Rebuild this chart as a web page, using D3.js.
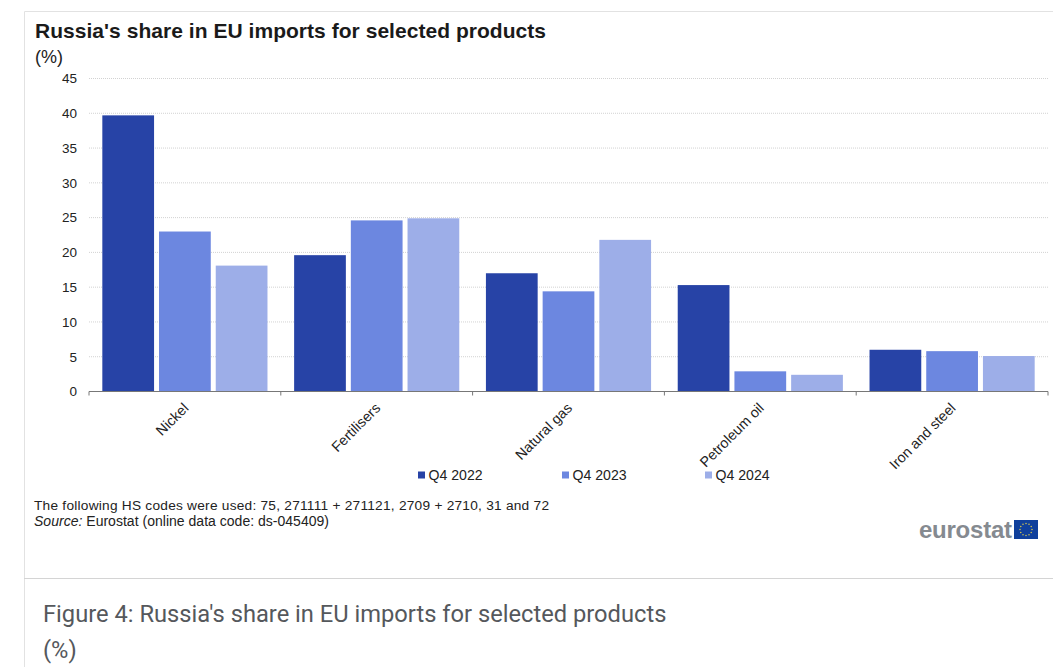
<!DOCTYPE html>
<html><head><meta charset="utf-8">
<script src="https://cdn.jsdelivr.net/npm/d3@7"></script>
<style>
html,body{margin:0;padding:0;background:#fff;overflow:hidden}
svg{display:block;font-family:"Liberation Sans",Arial,sans-serif}
</style></head><body>
<svg id="c" width="1053" height="667" fill="#222"></svg>
<script>
const categories=["Nickel","Fertilisers","Natural gas","Petroleum oil","Iron and steel"];
const seriesNames=["Q4 2022","Q4 2023","Q4 2024"];
const q42022=[39.7,19.6,17.0,15.3,6.0];
const q42023=[23.0,24.6,14.4,2.9,5.8];
const q42024=[18.1,24.9,21.8,2.4,5.1];
const seriesValues=[q42022,q42023,q42024];
const colors=["#2743a6","#6c87e0","#9daee8"];
const yTicks=[0,5,10,15,20,25,30,35,40,45];

const svg=d3.select("#c");
// page frame
svg.append("path").attr("d","M1053 11.5H24.5V667").attr("fill","none").attr("stroke","#e2e2e2");
svg.append("line").attr("x1",24).attr("x2",1053).attr("y1",578.5).attr("y2",578.5).attr("stroke","#d4d4d4");

svg.append("text").attr("x",35).attr("y",38).attr("font-size",21).attr("font-weight",700).attr("fill","#1a1a1a").attr("textLength",511).text("Russia's share in EU imports for selected products");
svg.append("text").attr("x",35).attr("y",63).attr("font-size",18).text("(%)");

const y=d3.scaleLinear().domain([0,45]).range([391.5,78.5]);
const x0=d3.scaleBand().domain(categories).range([89,1048]);
const x1=d3.scaleBand().domain(seriesNames).range([0,x0.bandwidth()]).paddingInner(0.0877).paddingOuter(0.235);

// gridlines
svg.append("g").selectAll("line").data(yTicks.filter(d=>d>0)).join("line")
 .attr("x1",89).attr("x2",1048).attr("y1",d=>y(d)).attr("y2",d=>y(d))
 .attr("stroke","#d2d2d2").attr("stroke-width",1).attr("stroke-dasharray","1 1");

// bars
const g=svg.append("g").selectAll("g").data(categories).join("g")
 .attr("transform",d=>`translate(${x0(d)},0)`);
g.selectAll("rect").data((d,i)=>seriesNames.map((s,j)=>({s,j,v:seriesValues[j][i]}))).join("rect")
 .attr("x",d=>x1(d.s)).attr("width",x1.bandwidth())
 .attr("y",d=>y(d.v)).attr("height",d=>y(0)-y(d.v)).attr("fill",d=>colors[d.j]);

// y axis labels
const ya=svg.append("g").attr("transform","translate(89,0)")
 .call(d3.axisLeft(y).tickValues(yTicks).tickSize(0).tickPadding(12).tickFormat(d3.format("d")));
ya.select(".domain").remove();
ya.attr("font-family",null).attr("font-size",null);
ya.selectAll("text").attr("font-size",13.5).attr("fill","#222");

// x axis
svg.append("line").attr("x1",89).attr("x2",1048).attr("y1",391.5).attr("y2",391.5).attr("stroke","#777");
const tickXs=categories.map(c=>x0(c)).concat([x0.range()[1]]);
svg.append("g").selectAll("line").data(tickXs).join("line")
 .attr("x1",d=>d).attr("x2",d=>d).attr("y1",391.5).attr("y2",395.5).attr("stroke","#777");
svg.append("g").selectAll("text").data(categories).join("text")
 .attr("text-anchor","end").attr("font-size",14.3)
 .attr("transform",d=>`translate(${x0(d)+x0.bandwidth()/2+4.5},${409}) rotate(-45)`)
 .text(d=>d);

// legend
const legendX=[418,562,705];
const lg=svg.append("g").selectAll("g").data(seriesNames).join("g")
 .attr("transform",(d,i)=>`translate(${legendX[i]},475)`);
lg.append("rect").attr("x",0).attr("y",-3.5).attr("width",7).attr("height",7).attr("fill",(d,i)=>colors[i]);
lg.append("text").attr("x",10.5).attr("y",5).attr("font-size",14.1).text(d=>d);

// notes
svg.append("text").attr("x",34).attr("y",510).attr("font-size",13.7).attr("textLength",515).text("The following HS codes were used: 75, 271111 + 271121, 2709 + 2710, 31 and 72");
const src=svg.append("text").attr("x",34).attr("y",526).attr("font-size",14).attr("textLength",295);
src.append("tspan").attr("font-style","italic").text("Source:");
src.append("tspan").text(" Eurostat (online data code: ds-045409)");

// eurostat logo
svg.append("text").attr("x",919).attr("y",538).attr("font-size",24).attr("font-weight",700).attr("fill","#858a90").attr("textLength",93).text("eurostat");
svg.append("rect").attr("x",1014).attr("y",520).attr("width",24).attr("height",19).attr("fill","#10409c");
const stars=d3.range(12).map(i=>i*Math.PI/6);
svg.append("g").selectAll("circle").data(stars).join("circle")
 .attr("cx",a=>1026+6*Math.cos(a)).attr("cy",a=>529.5+6*Math.sin(a)).attr("r",0.7).attr("fill","#e8d44a");

// caption
svg.append("text").attr("x",43).attr("y",622).attr("font-size",23.7).attr("fill","#55585c").attr("font-family","Roboto").text("Figure 4: Russia's share in EU imports for selected products");
svg.append("text").attr("x",43).attr("y",658).attr("font-size",23.7).attr("fill","#55585c").attr("font-family","Roboto").text("(%)");
</script>
</body></html>
